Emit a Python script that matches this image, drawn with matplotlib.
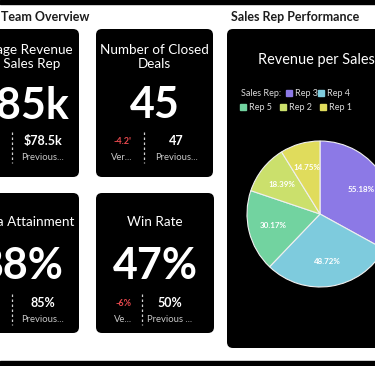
import matplotlib
matplotlib.use("Agg")
import matplotlib.pyplot as plt
from matplotlib.patches import FancyBboxPatch, Rectangle
import numpy as np

plt.rcParams['font.family'] = ['Lato', 'DejaVu Sans']

# KPI cards
kpi_titles = ["Average Revenue\nper Sales Rep", "Number of Closed\nDeals", "Quota Attainment", "Win Rate"]
kpi_values = ["$85k", "45", "88%", "47%"]
kpi_deltas = ["-7.6%", "-4.2'", "+3.5%", "-6%"]
kpi_delta_labels = ["Ver...", "Ver...", "Ver...", "Ve..."]
kpi_previous = ["$78.5k", "47", "85%", "50%"]
kpi_prev_labels = ["Previous...", "Previous...", "Previous...", "Previous ..."]

# pie
reps = ["Rep 3", "Rep 4", "Rep 5", "Rep 2", "Rep 1"]
revenue = [55.18, 48.72, 30.17, 18.39, 14.75]
rep_colors = ["#8c79e6", "#7ecbdd", "#72d3a0", "#cbe06c", "#e0dc5c"]

W, H = 375, 366
fig = plt.figure(figsize=(W / 100, H / 100), dpi=100, facecolor="white")
bg = fig.add_axes([0, 0, 1, 1])
bg.set_xlim(0, W)
bg.set_ylim(H, 0)
bg.axis("off")

def pt(px):
    return px * 0.72

# black bands top / bottom
bg.add_patch(Rectangle((0, 0), W, 4, color="black"))
bg.add_patch(Rectangle((0, 361), W, 6, color="black"))

bg.text(1, 17, "Team Overview", fontsize=pt(12.5), fontweight="bold", color="#1c1c1c", va="center")
bg.text(231, 17, "Sales Rep Performance", fontsize=pt(12.5), fontweight="bold", color="#1c1c1c", va="center")

def card(x0, y0, x1, y1):
    bg.add_patch(FancyBboxPatch((x0, y0), x1 - x0, y1 - y0,
                                boxstyle="round,pad=0,rounding_size=6",
                                fc="black", ec="none"))

# card geometry: (left, top, right, bottom, title_y, big_y, sub_y, divider, leftcol, rightcol)
cards = [
    (-38, 29, 79, 177, 57, 105, 141, 12, -18, 43),
    (96, 29, 213, 177, 57, 105, 141, 144, 122, 176),
    (-38, 193, 79, 333, 222, 266, 303, 12, -18, 43),
    (96, 193, 214, 333, 222, 266, 303, 142, 123, 170),
]

for i, (x0, y0, x1, y1, ty, by, sy, dx, lx, rx) in enumerate(cards):
    card(x0, y0, x1, y1)
    cx = (x0 + x1) / 2
    bg.text(cx, ty, kpi_titles[i], fontsize=pt(13.5), color="white", ha="center", va="center",
            linespacing=1.3)
    bg.text(cx, by, kpi_values[i], fontsize=pt(43), fontweight="bold", color="white",
            ha="center", va="center")
    bg.text(lx, sy, kpi_deltas[i], fontsize=pt(9), fontweight="bold", color="#e5484d",
            ha="center", va="center")
    bg.text(lx, sy + 16, kpi_delta_labels[i], fontsize=pt(9.5), color="#c8c8c8",
            ha="center", va="center")
    bg.text(rx, sy, kpi_previous[i], fontsize=pt(12.5), fontweight="bold", color="white",
            ha="center", va="center")
    bg.text(rx, sy + 16, kpi_prev_labels[i], fontsize=pt(9.5), color="#c8c8c8",
            ha="center", va="center")
    bg.plot([dx, dx], [sy - 9, sy + 22], color="#d0d0d0", lw=0.9, ls=(0, (2, 2)))

# right panel
card(227, 29, 440, 348)
bg.text(258, 60, "Revenue per Sales Rep", fontsize=pt(14.5), color="white", va="center")
bg.text(241, 93, "Sales Rep:", fontsize=pt(9), color="#d8d8d8", va="center")
legend_pos = [(289, 93), (321, 93), (243, 107), (283, 107), (323, 107)]
for (x, y), name, c in zip(legend_pos, reps, rep_colors):
    bg.add_patch(Rectangle((x - 3, y - 3), 6, 6, color=c))
    bg.text(x + 6, y, name, fontsize=pt(9), color="#d8d8d8", va="center")

# pie
cxp, cyp, r = 320, 214, 73
pax = fig.add_axes([(cxp - r) / W, 1 - (cyp + r) / H, 2 * r / W, 2 * r / H])
pax.set_zorder(5)
pax.patch.set_alpha(0)
wedges, _ = pax.pie(revenue, colors=rep_colors, startangle=90, counterclock=False,
                    wedgeprops=dict(edgecolor="#f0f0f0", linewidth=0.8))
pax.set_xlim(-1, 1)
pax.set_ylim(-1, 1)
pax.set_aspect("equal")
pax.axis("off")
for w, v in zip(wedges, revenue):
    ang = np.deg2rad((w.theta1 + w.theta2) / 2)
    pax.text(0.66 * np.cos(ang), 0.66 * np.sin(ang), f"{v:.2f}%", fontsize=pt(8),
             fontweight="bold", color="white", ha="center", va="center")

fig.savefig("out.png", dpi=100, facecolor="white")
